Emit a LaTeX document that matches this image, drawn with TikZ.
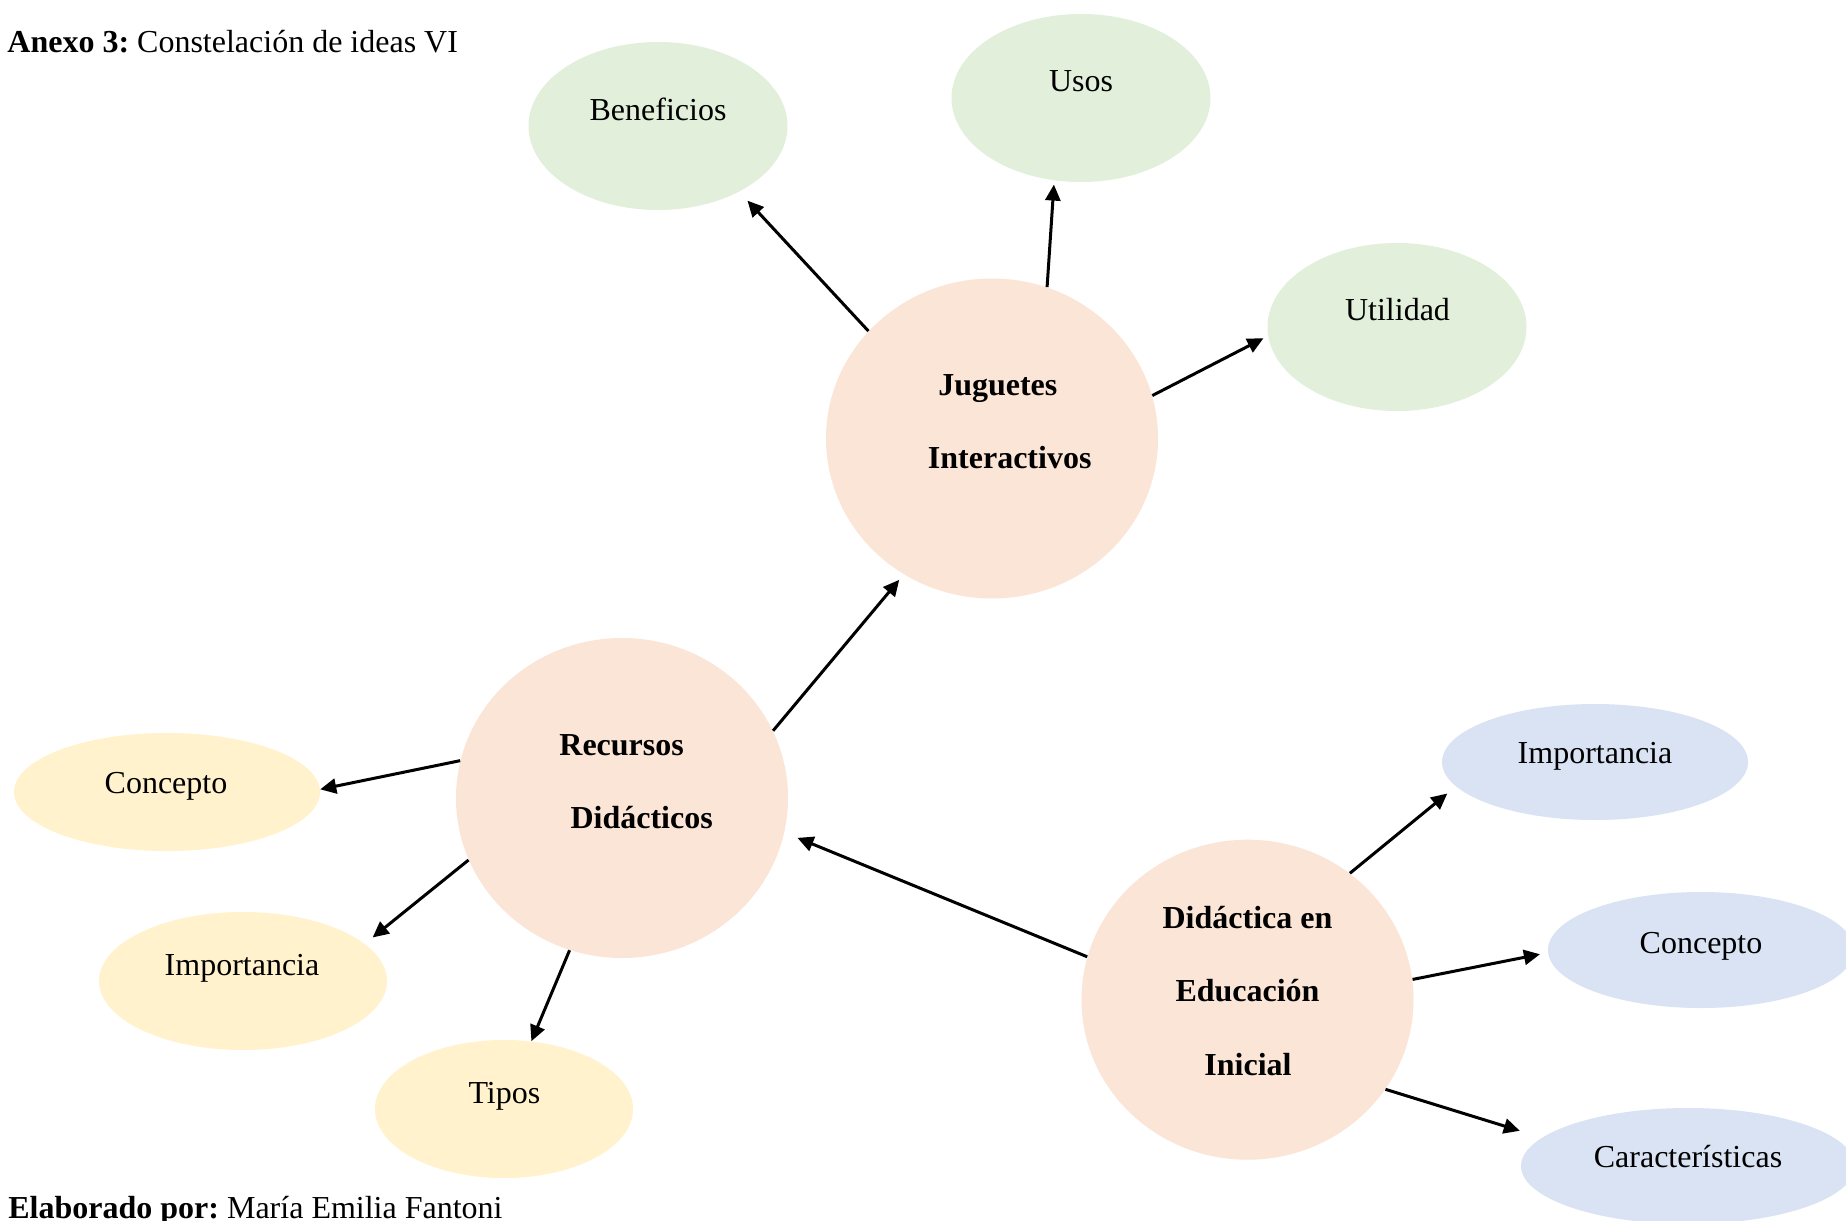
\documentclass[tikz,border=0pt]{standalone}
\usepackage{fontspec}
\setmainfont{Liberation Serif}
\usetikzlibrary{shapes.geometric,arrows.meta}
\definecolor{cgreen}{HTML}{E2EFDA}
\definecolor{cpeach}{HTML}{FBE5D6}
\definecolor{cyellow}{HTML}{FFF2CC}
\definecolor{cblue}{HTML}{DAE3F3}
\frenchspacing
\begin{document}
\begin{tikzpicture}[x=0.5pt,y=-0.5pt,
  blob/.style={ellipse, inner sep=0pt, draw=none},
  hub/.style={blob, fill=cpeach, minimum width=166pt, minimum height=160pt},
  lbl/.style={inner sep=0pt, anchor=base, font=\fontsize{16pt}{19pt}\selectfont},
  blbl/.style={lbl, font=\fontsize{16pt}{19pt}\selectfont\bfseries},
  arr/.style={-{Triangle[length=8pt,width=7.5pt]}, line width=1.5pt, black}]
\useasboundingbox (0,0) rectangle (1846,1220);
\fill[white] (0,0) rectangle (1846,1220);

% hubs
\node[hub] (J) at (992,438.5) {};
\node[hub] (R) at (622,798) {};
\node[hub] (D) at (1247.5,999.7) {};

% green
\node[blob, fill=cgreen, minimum width=129.5pt, minimum height=84pt] (ben) at (658,126) {};
\node[blob, fill=cgreen, minimum width=129.5pt, minimum height=84pt] (usos) at (1081,98) {};
\node[blob, fill=cgreen, minimum width=129.5pt, minimum height=84pt] (util) at (1397,327) {};
% yellow
\node[blob, fill=cyellow, minimum width=153pt, minimum height=59pt] (ycon) at (167,792) {};
\node[blob, fill=cyellow, minimum width=144pt, minimum height=69pt] (yimp) at (243,981) {};
\node[blob, fill=cyellow, minimum width=129pt, minimum height=69pt] (tipos) at (504,1109) {};
% blue
\node[blob, fill=cblue, minimum width=153pt, minimum height=58pt] (bimp) at (1595,762) {};
\node[blob, fill=cblue, minimum width=153pt, minimum height=58pt] (bcon) at (1701,950) {};
\node[blob, fill=cblue, minimum width=167pt, minimum height=58pt] (car) at (1688,1166) {};

% texts
\node[lbl] (benT) at (658,120) {Beneficios};
\node[lbl] (usosT) at (1081,91.7) {Usos};
\node[lbl] (utilT) at (1397.5,320.7) {Utilidad};
\node[lbl] (yconT) at (166,793.3) {Concepto};
\node[lbl] (yimpT) at (242,975) {Importancia};
\node[lbl] (tiposT) at (504.4,1103) {Tipos};
\node[lbl] (bimpT) at (1595,763) {Importancia};
\node[lbl] (bconT) at (1701,953.5) {Concepto};
\node[lbl] (carT) at (1688,1167) {Características};

\node[blbl] (J1) at (997.8,395.7) {Juguetes};
\node[blbl] (J2) at (1009.7,468.3) {Interactivos};
\node[blbl] (R1) at (621.6,755) {Recursos};
\node[blbl] (R2) at (641.6,828) {Didácticos};
\node[blbl] (D1) at (1247.5,928.3) {Didáctica en};
\node[blbl] (D2) at (1247.5,1001.7) {Educación};
\node[blbl] (D3) at (1248,1075) {Inicial};

% title and footer
\node[lbl, anchor=base west] (title) at (7,53) {\textbf{Anexo 3:} Constelación de ideas VI};
\node[lbl, anchor=base west] (foot) at (8,1218) {\textbf{Elaborado por:} María Emilia Fantoni};

% connectors
\draw[arr, shorten >=6pt] (J.139) -- (ben.-39);
\draw[arr, shorten >=2pt] (J.70.5) -- (usos.252.6);
\draw[arr, shorten >=2.5pt] (J.15.6) -- (util.184.3);
\draw[arr, shorten >=3.5pt] (R.24.4) -- (J.237);
\draw[arr] (R.167.2) -- (ycon.1.9);
\draw[arr, shorten >=5pt] (R.202.4) -- (yimp.17.5);
\draw[arr] (R.251) -- (tipos.68.6);
\draw[arr, shorten >=7pt] (D.165.1) -- (R.348.6);
\draw[arr, shorten >=5.5pt] (D.51.8) -- (bimp.190);
\draw[arr, shorten >=4pt] (D.7.9) -- (bcon.181.2);
\draw[arr, shorten >=11.5pt] (D.-33) -- (car.169.1);
\end{tikzpicture}
\end{document}
